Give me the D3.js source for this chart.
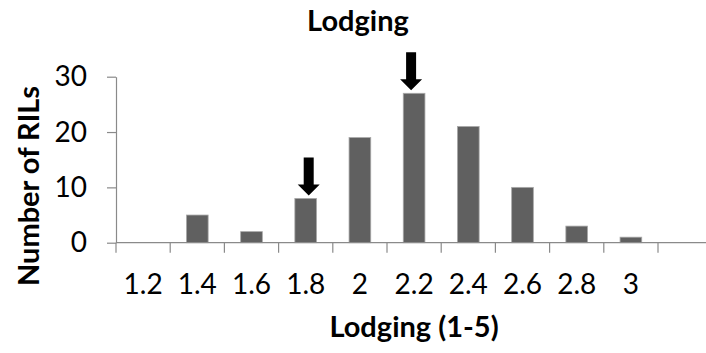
<!DOCTYPE html>
<head>
<meta charset="utf-8">
<style>
body { margin: 0; background: #fff; }
text { font-family: Lato, "Liberation Sans", sans-serif; fill: #000; }
.bar { fill: #606060; stroke: #a8a8a8; stroke-width: 0.8px; }
.axis-line { stroke: #8a8a8a; stroke-width: 1.2px; fill: none; }
.tick-label { font-size: 28px; }
.title { font-size: 29px; font-weight: bold; }
.arrow { fill: #000; }
</style>
</head>
<body>
<svg width="706" height="353"></svg>
<script src="https://cdn.jsdelivr.net/npm/d3@7"></script>
<script>

// data
var categories = ["1.2", "1.4", "1.6", "1.8", "2", "2.2", "2.4", "2.6", "2.8", "3"];
var counts = [0, 5, 2, 8, 19, 27, 21, 10, 3, 1];
var yTicks = [0, 10, 20, 30];
var arrowAt = ["1.8", "2.2"];
var arrowDx = {"1.8": 3, "2.2": -3};

var svg = d3.select("svg"),
    width = +svg.attr("width"),
    height = +svg.attr("height");

var plotLeft = 116, plotRight = 658, plotTop = 76.7, plotBottom = 242.7;

var x = d3.scaleBand()
    .domain(categories)
    .range([plotLeft, plotRight])
    .paddingInner(0.6)
    .paddingOuter(0.3);

var y = d3.scaleLinear()
    .domain([0, 30])
    .range([plotBottom, plotTop]);

var data = categories.map(function(c, i) { return {cat: c, value: counts[i]}; });

// bars
svg.selectAll(".bar")
    .data(data.filter(function(d) { return d.value > 0; }))
  .enter().append("rect")
    .attr("class", "bar")
    .attr("x", function(d) { return x(d.cat); })
    .attr("width", x.bandwidth())
    .attr("y", function(d) { return y(d.value); })
    .attr("height", function(d) { return y(0) - y(d.value); });

// y axis
var yAxis = svg.append("g")
    .attr("transform", "translate(" + plotLeft + ",0)")
    .call(d3.axisLeft(y).tickValues(yTicks).tickSizeInner(9).tickSizeOuter(0).tickPadding(20));
yAxis.select(".domain").attr("class", "axis-line");
yAxis.selectAll(".tick line").attr("class", "axis-line");
yAxis.selectAll(".tick text").attr("class", "tick-label");
yAxis.attr("font-family", null).attr("font-size", null);

// x axis: labels from the band scale, ticks between categories
var xAxis = svg.append("g")
    .attr("transform", "translate(0," + plotBottom + ")")
    .call(d3.axisBottom(x).tickSize(0).tickPadding(31));
xAxis.select(".domain").remove();
xAxis.selectAll(".tick text").attr("class", "tick-label");
xAxis.attr("font-family", null).attr("font-size", null);

svg.append("line")
    .attr("class", "axis-line")
    .attr("x1", plotLeft).attr("x2", width)
    .attr("y1", y(0)).attr("y2", y(0));

var step = x.step();
var bounds = d3.range(categories.length + 1).map(function(i) {
  return x(categories[0]) + x.bandwidth() / 2 - step / 2 + i * step;
});
svg.selectAll(".xtick")
    .data(bounds)
  .enter().append("line")
    .attr("class", "axis-line")
    .attr("x1", function(d) { return d; }).attr("x2", function(d) { return d; })
    .attr("y1", y(0)).attr("y2", y(0) + 10);

// arrows above the marked bars
function arrowPath(cx, tip) {
  return "M" + (cx - 5) + "," + (tip - 38) +
         "L" + (cx + 5) + "," + (tip - 38) +
         "L" + (cx + 5) + "," + (tip - 11) +
         "L" + (cx + 11) + "," + (tip - 11) +
         "L" + cx + "," + tip +
         "L" + (cx - 11) + "," + (tip - 11) +
         "L" + (cx - 5) + "," + (tip - 11) + "Z";
}
svg.selectAll(".arrow")
    .data(data.filter(function(d) { return arrowAt.indexOf(d.cat) >= 0; }))
  .enter().append("path")
    .attr("class", "arrow")
    .attr("d", function(d) {
      return arrowPath(x(d.cat) + x.bandwidth() / 2 + arrowDx[d.cat], y(d.value) - 3);
    });

// titles
svg.append("text")
    .attr("class", "title")
    .attr("x", 358).attr("y", 31)
    .attr("text-anchor", "middle")
    .text("Lodging");

svg.append("text")
    .attr("class", "title")
    .attr("x", 414).attr("y", 337)
    .attr("text-anchor", "middle")
    .text("Lodging (1-5)");

svg.append("text")
    .attr("class", "title")
    .attr("transform", "translate(38.5,186) rotate(-90)")
    .attr("text-anchor", "middle")
    .text("Number of RILs");

</script>
</body>
